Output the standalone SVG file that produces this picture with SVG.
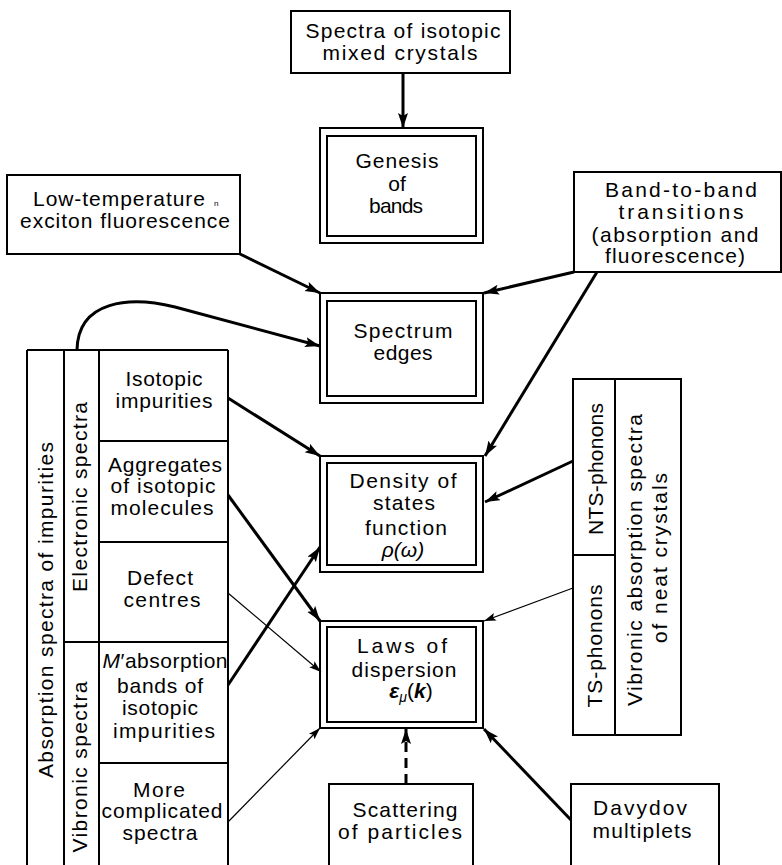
<svg xmlns="http://www.w3.org/2000/svg" width="782" height="865" viewBox="0 0 782 865">
<style>
.bg{fill:#fff}
.box{fill:none;stroke:#000;stroke-width:2}
.ln{stroke:#000;stroke-width:2;fill:none}
.t{font-family:"Liberation Sans",Arial,sans-serif;font-size:21px;text-anchor:middle;fill:#000}
.thick{stroke:#000;stroke-width:3;fill:none;marker-end:url(#ah)}
.thin{stroke:#000;stroke-width:1.2;fill:none;marker-end:url(#ahs)}
.dash{stroke:#000;stroke-width:3;fill:none;stroke-dasharray:10 6;marker-end:url(#ah)}
</style>
<defs>
<marker id="ah" markerUnits="userSpaceOnUse" markerWidth="16" markerHeight="12" refX="15" refY="5" orient="auto">
<path d="M0,0 L15,5 L0,10 L3,5 z" fill="#000"/>
</marker>
<marker id="ahs" markerUnits="userSpaceOnUse" markerWidth="14" markerHeight="10" refX="12" refY="4" orient="auto">
<path d="M0,0 L12,4 L0,8 L2.5,4 z" fill="#000"/>
</marker>
</defs>
<rect class="bg" x="0" y="0" width="782" height="865"/>

<g id="connectors">
<path class="thick" d="M403,73 L403,128"/>
<path class="thick" d="M240,254 L320,293"/>
<path class="thick" d="M574,272 L484,293"/>
<path class="thick" d="M77,350 C78,300 130,296 175,307 L320,346"/>
<path class="thick" d="M597,272 L485,456"/>
<path class="thick" d="M228,398 L320,456"/>
<path class="thick" d="M573,461 L485,502"/>
<path class="thick" d="M228,495 L320,621"/>
<path class="thick" d="M228,685 L320,547"/>
<path class="thin" d="M228,593 L321,672"/>
<path class="thin" d="M573,588 L484,621"/>
<path class="thin" d="M228,822 L320,728"/>
<path class="dash" d="M406,784 L406,729"/>
<path class="thick" d="M571,820 L484,729"/>
</g>

<g id="mixed-crystals">
<rect class="box" x="291" y="11" width="219" height="62"/>
<text class="t" x="403" y="38" textLength="195" lengthAdjust="spacing">Spectra of isotopic</text>
<text class="t" x="400" y="60" textLength="155" lengthAdjust="spacing">mixed crystals</text>
</g>

<g id="genesis">
<rect class="box" x="320" y="128" width="163" height="115"/>
<rect class="box" x="327" y="136" width="149" height="100"/>
<text class="t" x="397" y="168" textLength="83" lengthAdjust="spacing">Genesis</text>
<text class="t" x="397" y="191">of</text>
<text class="t" x="396" y="213" textLength="54" lengthAdjust="spacing">bands</text>
</g>

<g id="low-temp">
<rect class="box" x="7" y="175" width="233" height="79"/>
<text class="t" x="119" y="206" textLength="172" lengthAdjust="spacing">Low-temperature</text>
<text x="214" y="206" font-family="Liberation Sans,Arial,sans-serif" font-size="8">n</text>
<text class="t" x="125" y="228" textLength="210" lengthAdjust="spacing">exciton fluorescence</text>
</g>

<g id="band-to-band">
<rect class="box" x="574" y="172" width="207" height="100"/>
<text class="t" x="681" y="197" textLength="152" lengthAdjust="spacing">Band-to-band</text>
<text class="t" x="681" y="219" textLength="125" lengthAdjust="spacing">transitions</text>
<text class="t" x="675" y="242" textLength="167" lengthAdjust="spacing">(absorption and</text>
<text class="t" x="675" y="263" textLength="140" lengthAdjust="spacing">fluorescence)</text>
</g>

<g id="spectrum-edges">
<rect class="box" x="320" y="293" width="163" height="110"/>
<rect class="box" x="327" y="301" width="149" height="95"/>
<text class="t" x="403" y="338" textLength="99" lengthAdjust="spacing">Spectrum</text>
<text class="t" x="403" y="360" textLength="59" lengthAdjust="spacing">edges</text>
</g>

<g id="density">
<rect class="box" x="320" y="456" width="163" height="116"/>
<rect class="box" x="327" y="463" width="149" height="102"/>
<text class="t" x="403" y="488" textLength="107" lengthAdjust="spacing">Density of</text>
<text class="t" x="404" y="510" textLength="62" lengthAdjust="spacing">states</text>
<text class="t" x="406" y="535" textLength="82" lengthAdjust="spacing">function</text>
<text class="t" x="403" y="557" font-size="19" font-style="italic">ρ(ω)</text>
</g>

<g id="dispersion">
<rect class="box" x="320" y="621" width="163" height="107"/>
<rect class="box" x="327" y="627" width="149" height="95"/>
<text class="t" x="402" y="653" textLength="90" lengthAdjust="spacing">Laws  of</text>
<text class="t" x="404" y="677" textLength="105" lengthAdjust="spacing">dispersion</text>
<text class="t" x="411" y="698"><tspan font-weight="bold" font-style="italic">ε</tspan><tspan font-style="italic" font-size="14" dy="4">μ</tspan><tspan dy="-4">(</tspan><tspan font-weight="bold" font-style="italic">k</tspan>)</text>
</g>

<g id="scattering">
<rect class="box" x="329" y="784" width="144" height="90"/>
<text class="t" x="405" y="817" textLength="105" lengthAdjust="spacing">Scattering</text>
<text class="t" x="400" y="839" textLength="124" lengthAdjust="spacing">of particles</text>
</g>

<g id="davydov">
<rect class="box" x="571" y="784" width="148" height="90"/>
<text class="t" x="640" y="815" textLength="94" lengthAdjust="spacing">Davydov</text>
<text class="t" x="642" y="838" textLength="99" lengthAdjust="spacing">multiplets</text>
</g>

<g id="impurity-spectra">
<path class="ln" d="M27,350 L228,350 M27,350 L27,866 M64,350 L64,866 M99,350 L99,866 M228,350 L228,866 M99,441 L228,441 M99,542 L228,542 M64,642 L228,642 M99,763 L228,763"/>
<text class="t" transform="translate(53,610) rotate(-90)" textLength="336" lengthAdjust="spacing">Absorption spectra of impurities</text>
<text class="t" transform="translate(87,497) rotate(-90)" textLength="190" lengthAdjust="spacing">Electronic spectra</text>
<text class="t" transform="translate(87,767) rotate(-90)" textLength="171" lengthAdjust="spacing">Vibronic spectra</text>
<g id="isotopic-impurities">
<text class="t" x="164" y="386" textLength="77" lengthAdjust="spacing">Isotopic</text>
<text class="t" x="164" y="408" textLength="97" lengthAdjust="spacing">impurities</text>
</g>
<g id="aggregates">
<text class="t" x="165" y="472" textLength="114" lengthAdjust="spacing">Aggregates</text>
<text class="t" x="163" y="493" textLength="105" lengthAdjust="spacing">of isotopic</text>
<text class="t" x="162" y="515" textLength="103" lengthAdjust="spacing">molecules</text>
</g>
<g id="defect-centres">
<text class="t" x="160" y="585" textLength="66" lengthAdjust="spacing">Defect</text>
<text class="t" x="162" y="607" textLength="77" lengthAdjust="spacing">centres</text>
</g>
<g id="m-absorption">
<text class="t" x="165" y="668" textLength="125" lengthAdjust="spacing"><tspan font-style="italic">M</tspan>′absorption</text>
<text class="t" x="160" y="693" textLength="86" lengthAdjust="spacing">bands of</text>
<text class="t" x="160" y="715" textLength="76" lengthAdjust="spacing">isotopic</text>
<text class="t" x="164" y="738" textLength="102" lengthAdjust="spacing">impurities</text>
</g>
<g id="more-complicated">
<text class="t" x="159" y="797" textLength="52" lengthAdjust="spacing">More</text>
<text class="t" x="162" y="818" textLength="121" lengthAdjust="spacing">complicated</text>
<text class="t" x="160" y="840" textLength="75" lengthAdjust="spacing">spectra</text>
</g>
</g>

<g id="neat-crystals">
<rect class="box" x="573" y="379" width="108" height="356"/>
<path class="ln" d="M615,379 L615,735 M573,555 L615,555"/>
<text class="t" transform="translate(603,469) rotate(-90)" textLength="132" lengthAdjust="spacing">NTS-phonons</text>
<text class="t" transform="translate(602,646) rotate(-90)" textLength="123" lengthAdjust="spacing">TS-phonons</text>
<text class="t" transform="translate(642,560) rotate(-90)" textLength="292" lengthAdjust="spacing">Vibronic absorption spectra</text>
<text class="t" transform="translate(667,558) rotate(-90)" textLength="170" lengthAdjust="spacing">of neat crystals</text>
</g>
</svg>
